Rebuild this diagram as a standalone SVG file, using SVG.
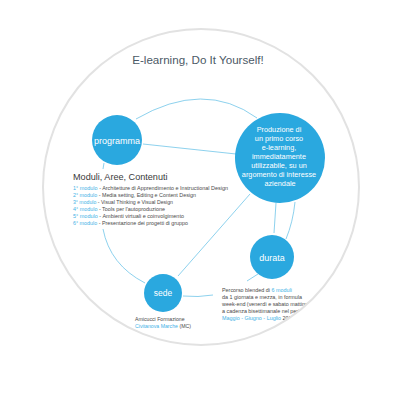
<svg xmlns="http://www.w3.org/2000/svg" width="400" height="400" viewBox="0 0 400 400">
<style>
.node{fill:#2aa8df}
.lbl{fill:#fff;font-family:"Liberation Sans",Arial,sans-serif;text-anchor:middle}
.conn{fill:none;stroke:#5cbde5;stroke-width:0.7}
.t{font-family:"Liberation Sans",Arial,sans-serif;fill:#4a4a4a}
.b{fill:#3fb2e6}
</style>
<defs>
<clipPath id="cc"><circle cx="201" cy="187" r="157"/></clipPath>
</defs>
<rect width="400" height="400" fill="#fff"/>
<circle cx="201" cy="187" r="158" fill="#fff" stroke="#e2e2e2" stroke-width="2"/>
<text x="198" y="63.5" class="t" font-size="11.6" text-anchor="middle" style="fill:#4b5966">E-learning, Do It Yourself!</text>
<g id="connectors">
<path class="conn" d="M136,119 Q204,79.5 257,118"/>
<path class="conn" d="M143,144 L236,154"/>
<path class="conn" d="M104,163 L103,169"/>
<path class="conn" d="M103,229 Q110,265 145,283"/>
<path class="conn" d="M250,194 L178,276"/>
<path class="conn" d="M276,203 L274,233"/>
<path class="conn" d="M295,202 Q293,222 286,239"/>
<path class="conn" d="M258,274 L247,281"/>
<path class="conn" d="M183,296 Q198,297.5 213,295"/>
</g>
<g id="programma">
<circle class="node" cx="117" cy="140" r="25"/>
<text class="lbl" x="117" y="143.5" font-size="9">programma</text>
</g>
<g id="produzione">
<circle class="node" cx="280" cy="158" r="45"/>
<text class="lbl" font-size="7.3">
<tspan x="280" y="131.7">Produzione di</tspan>
<tspan x="280" y="140.8">un primo corso</tspan>
<tspan x="280" y="149.9">e-learning,</tspan>
<tspan x="280" y="159">immediatamente</tspan>
<tspan x="280" y="168.1">utilizzabile, su un</tspan>
<tspan x="280" y="177.2">argomento di interesse</tspan>
<tspan x="280" y="186.3">aziendale</tspan>
</text>
</g>
<g id="durata">
<circle class="node" cx="272" cy="257" r="22"/>
<text class="lbl" x="272" y="260.5" font-size="9">durata</text>
</g>
<g id="sede">
<circle class="node" cx="163" cy="293" r="19"/>
<text class="lbl" x="163" y="296" font-size="8.5">sede</text>
</g>
<g id="moduli">
<text class="t" x="73" y="180" font-size="9.1" style="fill:#3a3a3a">Moduli, Aree, Contenuti</text>
<g font-size="5.4">
<text class="t" x="73" y="189.5" textLength="155" lengthAdjust="spacingAndGlyphs"><tspan class="b">1° modulo</tspan> - Architetture di Apprendimento e Instructional Design</text>
<text class="t" x="73" y="196.6" textLength="123" lengthAdjust="spacingAndGlyphs"><tspan class="b">2° modulo</tspan> - Media setting, Editing e Content Design</text>
<text class="t" x="73" y="203.7" textLength="100" lengthAdjust="spacingAndGlyphs"><tspan class="b">3° modulo</tspan> - Visual Thinking e Visual Design</text>
<text class="t" x="73" y="210.8" textLength="92" lengthAdjust="spacingAndGlyphs"><tspan class="b">4° modulo</tspan> - Tools per l'autoproduzione</text>
<text class="t" x="73" y="217.9" textLength="111" lengthAdjust="spacingAndGlyphs"><tspan class="b">5° modulo</tspan> - Ambienti virtuali e coinvolgimento</text>
<text class="t" x="73" y="225" textLength="115" lengthAdjust="spacingAndGlyphs"><tspan class="b">6° modulo</tspan> - Presentazione dei progetti di gruppo</text>
</g>
</g>
<g id="durata-testo" font-size="5.4" clip-path="url(#cc)">
<text class="t" x="222" y="291.5">Percorso blended di <tspan class="b">6 moduli</tspan></text>
<text class="t" x="222" y="298.6">da 1 giornata e mezza, in formula</text>
<text class="t" x="222" y="305.7">week-end (venerdì e sabato mattina)</text>
<text class="t" x="222" y="312.8">a cadenza bisettimanale nel periodo</text>
<text class="t" x="222" y="319.9"><tspan class="b">Maggio - Giugno - Luglio</tspan> 2013</text>
</g>
<g id="sede-testo" font-size="5.2">
<text class="t" x="135" y="320.5">Amicucci Formazione</text>
<text class="t" x="135" y="327.7"><tspan class="b">Civitanova Marche</tspan> (MC)</text>
</g>
</svg>
